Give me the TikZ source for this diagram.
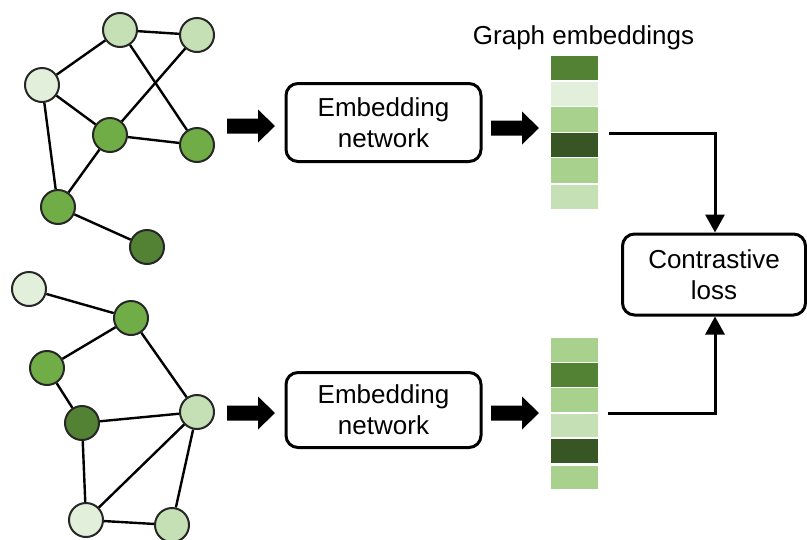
\documentclass[tikz,border=0pt]{standalone}
\usepackage{fontspec}
\setmainfont{Liberation Sans}
\usetikzlibrary{arrows.meta}
\definecolor{gLightest}{HTML}{E2EFDA}
\definecolor{gLight}{HTML}{C5E0B4}
\definecolor{gMid}{HTML}{A9D18E}
\definecolor{gMed}{HTML}{70AD47}
\definecolor{gDark}{HTML}{548235}
\definecolor{gDarkest}{HTML}{375623}
\definecolor{rim}{HTML}{262626}
\tikzset{
  vtx/.style={circle, draw=rim, line width=2pt, minimum size=34pt, inner sep=0pt},
  edge/.style={line width=2.4pt, black},
  netbox/.style={draw, line width=3pt, rounded corners=12pt, align=center,
    font=\fontsize{26}{31}\selectfont, inner sep=0pt},
  cell/.style={minimum width=47pt, inner sep=0pt, anchor=north west},
  link/.style={line width=3pt, -{Triangle[width=19pt,length=18pt]}},
  blockarrow/.pic={\fill[black] (0,-7.5) -- (31,-7.5) -- (31,-16.5) -- (48,0)
    -- (31,16.5) -- (31,7.5) -- (0,7.5) -- cycle;}
}
\begin{document}
\begin{tikzpicture}[x=1pt, y=-1pt]
\useasboundingbox (0,0) rectangle (807,539);

% first input graph
\node[vtx, fill=gLight]    (a) at (120,30)  {};
\node[vtx, fill=gLight]    (b) at (197,35)  {};
\node[vtx, fill=gLightest] (c) at (42,85)   {};
\node[vtx, fill=gMed]      (d) at (110,135) {};
\node[vtx, fill=gMed]      (e) at (197,145) {};
\node[vtx, fill=gMed]      (f) at (58,207)  {};
\node[vtx, fill=gDark]     (g) at (147,247) {};
\foreach \u/\v in {a/b, a/c, a/e, b/d, c/d, c/f, d/e, d/f, f/g}
  \draw[edge] (\u) -- (\v);

% second input graph
\node[vtx, fill=gLightest] (h) at (29,289)  {};
\node[vtx, fill=gMed]      (i) at (131,318) {};
\node[vtx, fill=gMed]      (j) at (47,368)  {};
\node[vtx, fill=gDark]     (k) at (82,423)  {};
\node[vtx, fill=gLight]    (l) at (197,412) {};
\node[vtx, fill=gLightest] (m) at (86,520)  {};
\node[vtx, fill=gLight]    (n) at (172,525) {};
\foreach \u/\v in {h/i, i/j, i/l, j/k, k/l, k/m, l/m, l/n, m/n}
  \draw[edge] (\u) -- (\v);

% block arrows into and out of the networks
\pic at (227,126) {blockarrow};
\pic at (491,128) {blockarrow};
\pic at (227,413) {blockarrow};
\pic at (491,413) {blockarrow};

% embedding networks
\node[netbox, minimum width=195pt, minimum height=78pt] (net1) at (383.5,122.5) {Embedding\\network};
\node[netbox, minimum width=195pt, minimum height=75pt] (net2) at (383.5,410) {Embedding\\network};

% embedding vectors
\node[font=\fontsize{26}{31}\selectfont, anchor=base] (title) at (583.5,44) {Graph embeddings};
\foreach \y/\hgt/\col [count=\q] in {56/24/gDark, 82/24/gLightest, 107/25/gMid, 133/24/gDarkest, 158/25/gMid, 185/24/gLight}
  \node[cell, minimum height=\hgt pt, fill=\col] (u\q) at (551,\y) {};
\foreach \y/\hgt/\col [count=\q] in {338/24/gMid, 363/24/gDark, 388/24/gMid, 414/23/gLight, 439/24/gDarkest, 466/23/gMid}
  \node[cell, minimum height=\hgt pt, fill=\col] (v\q) at (551,\y) {};

% contrastive loss
\node[netbox, minimum width=183pt, minimum height=81pt] (loss) at (714,274.5) {Contrastive\\loss};

\coordinate (s1) at (609,133);
\coordinate (s2) at (608,413);
\draw[link] (s1) -| ([xshift=1pt]loss.north);
\draw[link] (s2) -| ([xshift=1pt]loss.south);
\end{tikzpicture}
\end{document}
